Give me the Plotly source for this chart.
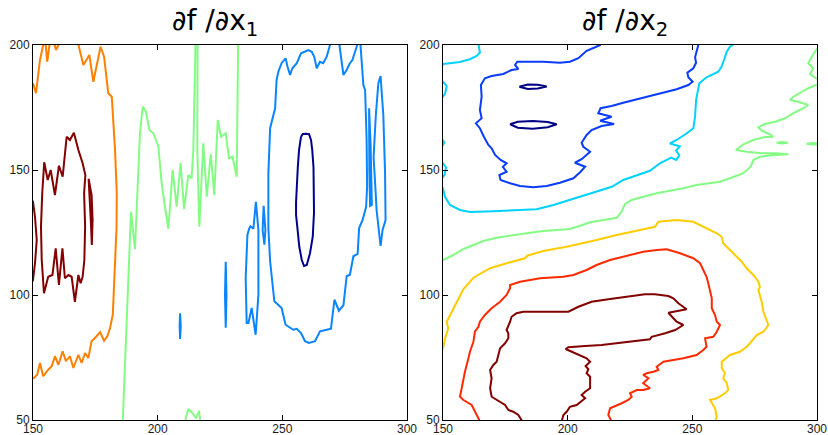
import plotly.graph_objects as go

# ---------------- data (contour lines) ----------------
x_ticks = [150, 200, 250, 300]
y_ticks = [50, 100, 150, 200]
title_left = "∂f /∂x<sub>1</sub>"
title_right = "∂f /∂x<sub>2</sub>"

# jet colormap levels
left_colors = {"navy": "#00008c", "blue": "#0a84ff", "green": "#84fb84", "orange": "#ff8000", "maroon": "#820000"}
right_colors = {"navy": "#000085", "blue": "#0a3cff", "cyan": "#00d2ff", "green": "#84fb84",
                "gold": "#ffcc00", "red": "#ff2a00", "maroon": "#820000"}

# ---- left panel: df/dx1 ----
l_orange = [(150, 184.7), (151.2, 180.7), (152.8, 194), (153.9, 200), (154.8, 203.3), (155.7, 193.3), (156.6, 200),
            (157.9, 203), (159.2, 198), (160.2, 200), (161.5, 203), (167.5, 203), (168.2, 200), (170.2, 192),
            (172.6, 196), (174.2, 185.3), (177.1, 199.3), (178.5, 195.3), (180.2, 180.7), (181.6, 179.3),
            (182.9, 158), (183.6, 140.7), (183.5, 126.8), (182.9, 113.5), (182.5, 100.1), (182, 92.1),
            (180.9, 86.8), (179.8, 83.5), (178.5, 81.7), (176.9, 85.2), (175.5, 83.5), (173.5, 81.5),
            (172.2, 74.8), (170.9, 76.8), (169.5, 72.8), (168.2, 76.1), (166.2, 70.8), (164.8, 75.5),
            (163.2, 73.5), (161.9, 77.5), (160.2, 72.1), (158.8, 75.5), (157.5, 71.5), (156.1, 70.1),
            (154.1, 67.5), (152.8, 72.8), (151.7, 68.1), (150, 66.5)]

l_maroon_main = [(153.5, 114), (153.2, 127.3), (153.7, 140.7), (154.5, 153.1), (155.9, 146), (157.1, 150),
                 (158.8, 140), (160.4, 151.7), (161.9, 147.3), (163.5, 163.3), (164.8, 162), (166.4, 164.9),
                 (168.2, 158), (169.9, 152.7), (171, 148), (170.5, 140.7), (170.9, 127.3), (170.6, 114),
                 (169.9, 107.3), (169.1, 104.7), (168.2, 108), (166.8, 97.3), (165.5, 107.3), (164.2, 108),
                 (162.8, 106.7), (161.8, 118.7), (160.4, 104), (159.1, 118.7), (157.8, 108), (156.1, 107.3),
                 (154.4, 100.7), (153.5, 114)]
l_maroon_edge = [(149.5, 138), (150, 137.3), (150.8, 131.3), (151.5, 122), (150.8, 112.7), (150, 106), (149.5, 105)]
l_maroon_small = [(172.3, 146.5), (173.5, 140), (173.9, 130), (173.6, 120), (173.2, 129.5), (172.6, 139), (172.3, 146.5)]

l_green_main = [(186, 49.5), (186.9, 73.5), (187.8, 100.1), (188.6, 118.8), (189.3, 133.3), (190.9, 118.3),
                (192.2, 146), (192.9, 164.7), (194, 175.4), (195.3, 173.3), (196.7, 166), (198.3, 164.7),
                (200.3, 159.3), (201.6, 144.7), (202.9, 135.3), (204.3, 126.5), (206, 150), (207.6, 135.3),
                (209.2, 152.9), (210.6, 134.3), (212.3, 148), (213.6, 146.7), (214.3, 158), (215.2, 202),
                (216, 202), (215.9, 158), (216.7, 127.3), (218.1, 158), (218.3, 160.7), (219.7, 139.3),
                (221.3, 156.4), (222.7, 140), (223.6, 160), (224.1, 170), (225.4, 163.3), (227.3, 164.7),
                (228.6, 154.7), (230, 155.3), (231.7, 147.3), (232.2, 200), (232.3, 203)]
l_green_bottom = [(211, 49.5), (212.3, 54.4), (214, 52.7), (215.4, 50.7), (216.6, 53.7), (217.1, 49.5)]

l_blue_main = [(272.5, 202), (272.9, 200), (274.5, 188), (275.8, 190), (277.1, 192.7), (278.1, 194),
               (279.8, 199.3), (280.3, 202), (281.2, 202), (282.5, 184), (283.2, 182), (283.8, 162),
               (284, 143.3), (283.6, 135.3), (282.2, 130), (280.8, 126.8), (280.2, 116.4), (278.5, 115.5),
               (277.1, 108.1), (275.8, 107.5), (274.5, 95.9), (272.7, 93.7), (270.9, 98.1), (269.5, 86.5),
               (267.8, 86.1), (265.1, 85.5), (263.1, 81.5), (260.7, 80.8), (259.1, 81.5), (257.5, 84.8),
               (255.8, 86.5), (254.4, 86.1), (251.3, 88.1), (249.7, 94.8), (246.8, 97.5), (245.1, 113.5),
               (244.4, 126.8), (244.4, 148.7), (245.1, 166.7), (246.4, 172), (247.1, 174.7), (247.7, 186),
               (248.4, 189.3), (249.7, 192.7), (251.3, 194.7), (252.1, 191.3), (253.1, 188), (254, 190.7),
               (255.8, 192.7), (257.5, 196.7), (259.1, 197.3), (260.4, 198), (261.8, 197.3), (262.8, 195.3),
               (263.8, 190.7), (265.1, 193.3), (266.4, 192.7), (267.8, 195.3), (269.1, 200), (269.4, 202)]
l_blue_tongue = [(236.8, 126.8), (237.2, 127.5), (238.4, 126.5), (239.4, 137.3), (240.4, 126), (240.4, 100.1),
                 (239.3, 84.1), (237.7, 94.8), (236.4, 88.8), (235.7, 88.8), (235.3, 106.8), (236, 124.1),
                 (236.8, 126.8)]
l_blue_sliver1 = [(209, 82.4), (209.25, 87.5), (209, 92.7), (208.8, 87.5), (209, 82.4)]
l_blue_sliver2 = [(227.3, 86.9), (227.6, 100), (227.3, 113.3), (227, 100), (227.3, 86.9)]
l_blue_sliver3 = [(242.5, 135.7), (243.2, 126), (242.8, 120.1), (242.1, 126), (242.5, 135.7)]
l_blue_sliver4 = [(284.8, 174.7), (285.4, 160), (285.9, 136), (285.2, 135.6), (284.9, 150), (284.8, 174.7)]
l_blue_loop = [(288.5, 184.7), (289.4, 187.6), (290.5, 172), (291.2, 148.7), (291.4, 130), (290.2, 126),
               (289.4, 119.6), (287.8, 134), (287.2, 145), (286.6, 155), (287.5, 172), (288.5, 184.7)]

l_navy = [(257.5, 163.3), (258.2, 164.4), (259.5, 164.5), (260.7, 164.3), (261.5, 162), (262, 158), (262.5, 151),
          (262.8, 140), (262.7, 133), (262.2, 123.3), (261.1, 116.7), (259.8, 112), (258.7, 111.6), (257.8, 114),
          (256.8, 119.3), (256, 127.3), (255.5, 132), (255.5, 137), (255.8, 144.7), (256.2, 151), (256.7, 158),
          (257.5, 163.3)]

# ---- right panel: df/dx2 ----
r_cyan_top = [(164, 202), (164.2, 200), (164.8, 196.9), (163.5, 195.6), (160.8, 194.3), (156.8, 193.2),
              (152.8, 192.7), (150, 192.4), (149, 190), (149.4, 186), (151.5, 183.5), (150.8, 180.5), (149, 178),
              (149, 163), (150.6, 161), (149, 158.5), (149, 154), (151.2, 151), (150.6, 148), (149, 146)]
r_cyan_main = [(149, 143), (150, 142.7), (150.8, 139.3), (152.8, 136), (156.8, 134), (160.8, 133.2),
               (170.2, 133.5), (179.5, 134), (187.6, 134.3), (194.3, 136), (200.9, 138), (207.6, 140),
               (214.3, 142.3), (217.7, 143.3), (222.3, 146), (227.7, 148), (233, 149.7), (237, 152.7),
               (241.5, 155), (243.5, 154), (244.8, 155.8), (243.5, 157.8), (245, 159.5), (241, 160.6),
               (243.7, 162), (247.5, 164.5), (250.4, 166.7), (251.1, 171.3), (251.5, 178), (252.8, 184.7),
               (255.7, 187.1), (260.4, 189.3), (261.7, 191.3), (262.7, 194), (263.8, 197.3), (265.1, 199.3),
               (266.2, 200), (266.6, 202)]

r_blue = [(213.3, 202), (213, 200), (211, 199.1), (207.6, 197.7), (204.3, 194.7), (200.9, 193.3), (196.9, 192.9),
          (190.2, 193.3), (183.6, 193.3), (179.8, 193.3), (178.9, 192), (180.2, 190.4), (177.5, 190),
          (174.2, 188.4), (169.5, 187.6), (166.8, 186.7), (165.2, 184), (165.5, 179.3), (164.8, 174),
          (165.5, 170.7), (163.2, 168.7), (164.8, 166.7), (166.4, 163.3), (168.2, 160), (169.5, 158.7),
          (170.9, 156), (173.1, 154), (175.5, 152.7), (174, 151.3), (175.5, 149.3), (172.6, 148), (173.1, 146),
          (176.9, 144.7), (180.9, 143.6), (186.2, 143.1), (191.6, 143.6), (196.9, 144.9), (202.3, 146.7),
          (205.2, 149.3), (207, 151.3), (202.9, 152.9), (205.6, 154.3), (209, 157.3), (206.3, 159.3),
          (205.6, 160.9), (207.6, 164), (209.6, 166), (213.6, 167.6), (218.6, 168.4), (213, 169.7),
          (217.6, 171.3), (212.3, 172.7), (213.2, 174.7), (217.6, 175.6), (222.3, 176.9), (227.7, 178.3),
          (233, 179.6), (238.4, 180.9), (243.7, 182.3), (248.4, 184), (250.1, 185.3), (248.4, 187.1),
          (248, 188.9), (250.4, 190.7), (251.5, 192.9), (251.1, 195.1), (251.7, 197.3), (252.4, 200), (252.6, 202)]

r_navy_upper = [(180.6, 183.3), (184, 184.2), (188, 184.1), (191.6, 183.4), (188, 182.6), (184, 182.4), (180.6, 183.3)]
r_navy_lower = [(176.9, 168.3), (180, 169.3), (186, 169.6), (192, 169.2), (195.6, 168.3), (192, 167.1),
                (186, 166.5), (180, 166.9), (176.9, 168.3)]

r_green_main = [(300.5, 184), (299.6, 184), (296.5, 182.7), (293.9, 181.3), (290.5, 179.3), (289.2, 178),
                (292.5, 177.3), (296.5, 176), (294.5, 174.7), (290.5, 172.7), (287.2, 170.7), (283.2, 169.3),
                (279.1, 168.4), (276.5, 167.1), (277.8, 165.7), (280.9, 164.4), (282.5, 163.3), (278.5, 163.1),
                (274.5, 162), (270.5, 160.3), (267.5, 158), (271.8, 157.3), (277.8, 156.7), (283.8, 156.7),
                (288.5, 156.3), (281.8, 155.9), (277.1, 155.3), (274.5, 154), (273.4, 151.3), (270.5, 148.7),
                (267.8, 147.6), (265.1, 146.7), (261.1, 145.3), (257.1, 144.7), (251.7, 144), (246.4, 142.7),
                (241, 141.7), (235.7, 140.7), (230.3, 139.3), (225.7, 138), (223, 136.4), (221.7, 133.5),
                (219.7, 130.9), (214.3, 130), (209, 129.1), (205, 127.7), (200.9, 126.4), (195.6, 126),
                (190.2, 125.6), (183.6, 124.7), (176.9, 123.7), (171.5, 122.9), (166.2, 121.6), (162.2, 120),
                (158.2, 118.4), (154.1, 116), (150, 114), (149, 113.5)]
r_green_edge = [(300.5, 199), (299.6, 198), (297.9, 195.3), (296.5, 192.7), (298.5, 190.7), (297.2, 188.4),
                (299.6, 186.7), (300.5, 186.5)]
r_green_dash1 = [(283.8, 160.9), (286, 161.2), (288.3, 160.9), (286, 160.6), (283.8, 160.9)]
r_green_dash2 = [(295.8, 160.5), (298, 160.8), (300.5, 160.7), (300.5, 160.2), (298, 160.2), (295.8, 160.5)]

r_gold = [(149, 77), (150, 78.7), (150.8, 82.4), (152.1, 86.7), (151.5, 89.3), (153.5, 93.3), (155.5, 96.7),
          (158.2, 102.4), (162.2, 106.9), (168.9, 110.7), (175.5, 112.7), (182.9, 114.7), (183.8, 115.7),
          (190.2, 117.6), (199.6, 119.3), (203.6, 120.3), (211.6, 122), (219.7, 124), (230.3, 126.4),
          (235, 127.3), (236.4, 129.3), (243.7, 130), (250.4, 129.3), (254.4, 127.3), (259.8, 124.7),
          (261.8, 123.3), (262.4, 120.7), (264.4, 118.7), (267.1, 116), (269.8, 113.3), (271.8, 110.7),
          (274.5, 108), (276.5, 105.3), (277.1, 103.3), (276.5, 102), (277.8, 97.3), (278.5, 93.3), (280.5, 88),
          (278.5, 85.3), (275.8, 84), (273.1, 80.7), (271.8, 79.3), (269.1, 77.3), (265.1, 76), (261.8, 73.3),
          (261.8, 70.7), (263.1, 68.7), (262.4, 66.7), (263.8, 64.7), (264.4, 62), (263.1, 60.7), (259.8, 58.7),
          (257.1, 58), (259.1, 54.7), (259.8, 51.3), (259.1, 49.5)]

r_red = [(164.8, 49.5), (163.5, 52), (162.2, 54), (161.5, 56), (158.2, 58), (156.8, 59.3), (157.5, 62.7),
         (158.2, 66.7), (158.8, 69.3), (160.2, 74.7), (160.8, 77.3), (162.2, 81.3), (162.8, 85.3), (164.2, 87.3),
         (164.8, 89.3), (166.8, 92), (169.5, 94.7), (172.9, 97.3), (175.5, 100), (176.9, 102.7), (176.9, 104),
         (180.9, 105.3), (188.9, 106.7), (198.3, 107.3), (202.3, 108), (207.6, 110), (211.6, 112), (217, 114),
         (222.3, 115.3), (230.3, 117.3), (235.7, 118), (239.7, 118.3), (245.1, 116.7), (250.4, 114.7),
         (253.1, 112.7), (254.4, 110), (255.7, 107.3), (256.4, 104.7), (257.1, 101.3), (257.8, 98.7),
         (257.8, 94.7), (259.1, 92), (259.8, 89.3), (261.1, 88), (259.8, 85.3), (258.4, 83.3), (255.1, 82.7),
         (255.7, 79.3), (254.4, 78), (251.7, 76), (246.4, 74.7), (242.4, 74), (238.4, 73.3), (235.7, 71.3),
         (236.4, 70), (234.4, 69.3), (231.7, 68.7), (230.3, 68), (232.4, 66.7), (230.3, 64.7), (232.4, 63.3),
         (233, 62.7), (230.3, 62), (227.7, 62), (225, 60.7), (225.7, 59.3), (224.3, 58), (221.7, 56.7),
         (217, 54.7), (216.3, 52), (217.6, 49.5)]

r_maroon = [(181.8, 49.5), (180.2, 52), (178.2, 53.3), (176.2, 54), (174.9, 56), (172.9, 57.3), (170.9, 58.7),
            (169.5, 59.3), (168.9, 62.7), (169.5, 66.7), (168.9, 70), (170.2, 72), (171.5, 73.3), (172.2, 76),
            (172.9, 78.7), (174.9, 80.7), (176.2, 82.7), (176.2, 84.7), (175.5, 86), (176.9, 89.3), (177.5, 91.3),
            (179.5, 92.7), (182.2, 93.3), (187.6, 93.3), (192.9, 93.3), (200.3, 93.3), (204.3, 95.3),
            (209.6, 97.3), (216.3, 98.3), (224.3, 99.3), (231, 100.3), (235, 100.3), (240.4, 99.6), (242.4, 98.7),
            (244.4, 96.7), (247.7, 94.3), (240.4, 92.9), (242.4, 90.7), (243.7, 89.3), (246.4, 88), (243.1, 86),
            (239.1, 84.7), (233.7, 83.3), (233, 82.3), (227, 81.6), (220.3, 80.7), (213.6, 80), (207, 79.6),
            (200.3, 79.1), (199.2, 78.4), (201.6, 77.3), (205, 76), (207.6, 74.7), (209, 73.3), (207.2, 71.6),
            (208.3, 70.3), (207.6, 68.7), (209, 67.3), (209, 62.7), (207, 61.3), (205.6, 60), (207, 58.7),
            (203.6, 56), (200.9, 55.3), (199.6, 53.3), (198.3, 52), (197.6, 49.5)]

left_lines = [(l_orange, "orange"), (l_maroon_main, "maroon"), (l_maroon_edge, "maroon"),
              (l_maroon_small, "maroon"), (l_green_main, "green"), (l_green_bottom, "green"),
              (l_blue_main, "blue"), (l_blue_tongue, "blue"), (l_blue_sliver1, "blue"), (l_blue_sliver2, "blue"),
              (l_blue_sliver3, "blue"), (l_blue_sliver4, "blue"), (l_blue_loop, "blue"), (l_navy, "navy")]
right_lines = [(r_cyan_top, "cyan"), (r_cyan_main, "cyan"), (r_blue, "blue"), (r_navy_upper, "navy"),
               (r_navy_lower, "navy"), (r_green_main, "green"), (r_green_edge, "green"), (r_green_dash1, "green"),
               (r_green_dash2, "green"), (r_gold, "gold"), (r_red, "red"), (r_maroon, "maroon")]

# ---------------- figure ----------------
fig = go.Figure()
for pts, c in left_lines:
    fig.add_trace(go.Scatter(x=[p[0] for p in pts], y=[p[1] for p in pts], mode="lines",
                             line=dict(color=left_colors[c], width=2), xaxis="x", yaxis="y",
                             hoverinfo="skip", showlegend=False))
for pts, c in right_lines:
    fig.add_trace(go.Scatter(x=[p[0] for p in pts], y=[p[1] for p in pts], mode="lines",
                             line=dict(color=right_colors[c], width=2), xaxis="x2", yaxis="y2",
                             hoverinfo="skip", showlegend=False))

W, H = 828, 435
ml, mr, mt, mb = 33, 11, 45, 15
pw = W - ml - mr
d1 = [0, (407 - ml) / pw]
d2 = [(443 - ml) / pw, 1]

axis_common = dict(showline=True, linecolor="black", linewidth=1, mirror="allticks", ticks="inside",
                   ticklen=5, tickwidth=1, tickcolor="black", showgrid=False, zeroline=False,
                   automargin=False,
                   tickfont=dict(family="Liberation Sans, Arial, sans-serif", size=12, color="#1a1a1a"))
x_extra = dict(ticklabelstandoff=-2)

fig.update_layout(
    width=W, height=H, margin=dict(l=ml, r=mr, t=mt, b=mb, autoexpand=False),
    paper_bgcolor="white", plot_bgcolor="white", showlegend=False,
    xaxis=dict(domain=d1, range=[150, 300], tickvals=x_ticks, anchor="y", **axis_common, **x_extra),
    yaxis=dict(domain=[0, 1], range=[50, 200], tickvals=y_ticks, anchor="x", **axis_common),
    xaxis2=dict(domain=d2, range=[150, 300], tickvals=x_ticks, anchor="y2", **axis_common, **x_extra),
    yaxis2=dict(domain=[0, 1], range=[50, 200], tickvals=y_ticks, anchor="x2", **axis_common),
)
title_font = dict(family="DejaVu Sans, sans-serif", size=28, color="black")
for txt, dom in [(title_left, d1), (title_right, d2)]:
    fig.add_annotation(text=txt, xref="paper", yref="paper", x=(dom[0] + dom[1]) / 2, y=1,
                       xanchor="center", yanchor="bottom", yshift=2, xshift=-5, showarrow=False,
                       font=title_font)

fig.write_html("out.html")
